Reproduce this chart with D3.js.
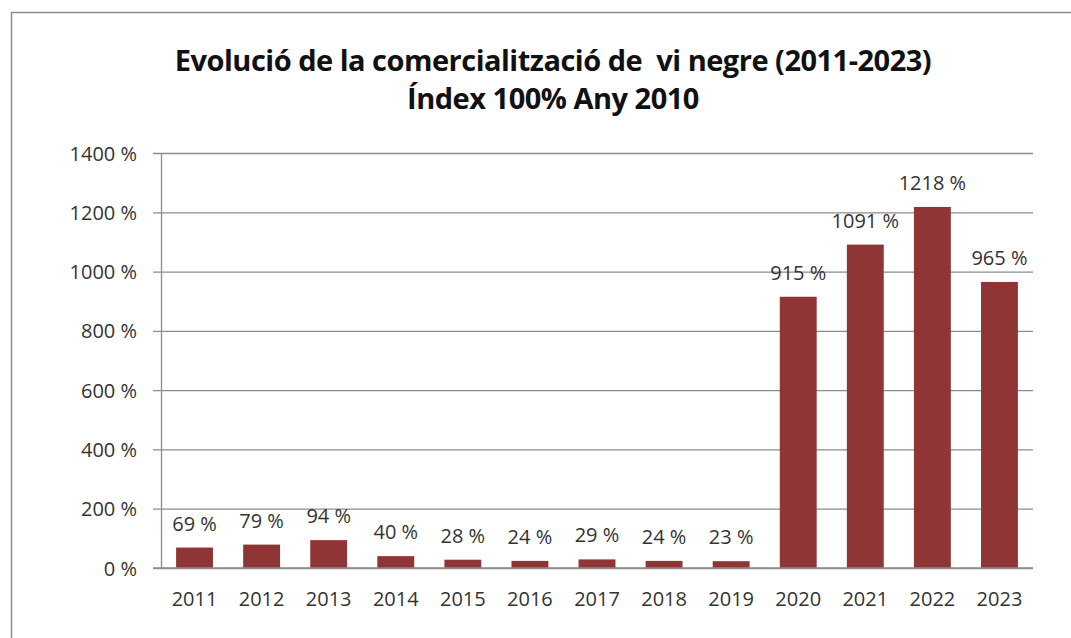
<!DOCTYPE html>
<html>
<head>
<meta charset="utf-8">
<script src="https://cdn.jsdelivr.net/npm/d3@7"></script>
<style>
  body { margin: 0; background: #fff; }
  svg { display: block; }
  svg text { font-family: "Open Sans", "Noto Sans", sans-serif; }
</style>
</head>
<body>
<svg width="1071" height="638"></svg>
<script>
let years = ['2011','2012','2013','2014','2015','2016','2017','2018','2019','2020','2021','2022','2023'];
let values = [69, 79, 94, 40, 28, 24, 29, 24, 23, 915, 1091, 1218, 965];
let yTicks = [0, 200, 400, 600, 800, 1000, 1200, 1400];
let titleLines = ['Evolució de la comercialització de\u00a0 vi negre (2011-2023)', 'Índex 100% Any 2010'];

var svg = d3.select('svg');
var plotLeft = 161, plotRight = 1033, plotTop = 153, plotBottom = 568;

// outer frame
svg.append('rect')
	.attr('x', 11.5).attr('y', 12.5)
	.attr('width', 1100).attr('height', 700)
	.attr('fill', 'none')
	.attr('stroke', '#8c8c8c')
	.attr('stroke-width', 1.5);

var x = d3.scaleBand().domain(years).range([plotLeft, plotRight]).paddingInner(0.45).paddingOuter(0.225);
var y = d3.scaleLinear().domain([0, 1400]).range([plotBottom, plotTop]);

// gridlines + y axis
var yAxis = svg.append('g')
	.attr('transform', 'translate(' + plotLeft + ',0)')
	.call(d3.axisLeft(y).tickValues(yTicks).tickSize(-(plotRight - plotLeft)).tickSizeOuter(0).tickPadding(24)
		.tickFormat(function(d) { return d + ' %'; }));
yAxis.attr('font-family', null);
yAxis.select('.domain').attr('stroke', '#8c8c8c').attr('stroke-width', 1.3);
yAxis.selectAll('.tick line').attr('stroke', '#8c8c8c').attr('stroke-width', 1.3).attr('x1', -8);
yAxis.selectAll('.tick text').attr('fill', '#333').style('font-size', '20px').attr('dy', '0.35em');

// bars
svg.append('g')
	.selectAll('rect')
	.data(values)
	.join('rect')
	.attr('fill', '#8f3535')
	.attr('x', function(d, i) { return x(years[i]); })
	.attr('y', function(d) { return y(d); })
	.attr('width', x.bandwidth())
	.attr('height', function(d) { return plotBottom - y(d); });

// x axis
var xAxis = svg.append('g')
	.attr('transform', 'translate(0,' + plotBottom + ')')
	.call(d3.axisBottom(x).tickSize(0).tickPadding(24));
xAxis.attr('font-family', null);
xAxis.select('.domain').attr('d', 'M' + (plotLeft - 8) + ',0H' + plotRight).attr('stroke', '#8c8c8c').attr('stroke-width', 1.3);
xAxis.selectAll('.tick text').attr('fill', '#333').style('font-size', '20px');

// value labels
svg.append('g')
	.selectAll('text')
	.data(values)
	.join('text')
	.attr('x', function(d, i) { return x(years[i]) + x.bandwidth() / 2; })
	.attr('y', function(d) { return y(d) - 17; })
	.attr('text-anchor', 'middle')
	.attr('fill', '#333')
	.style('font-size', '20px')
	.text(function(d) { return d + ' %'; });

// title
svg.append('g')
	.selectAll('text')
	.data(titleLines)
	.join('text')
	.attr('x', 553)
	.attr('y', function(d, i) { return 71 + i * 38; })
	.attr('text-anchor', 'middle')
	.attr('fill', '#111')
	.style('font-size', '29px')
	.style('font-weight', 'bold')
	.style('letter-spacing', '-0.5px')
	.text(function(d) { return d; });
</script>
</body>
</html>
